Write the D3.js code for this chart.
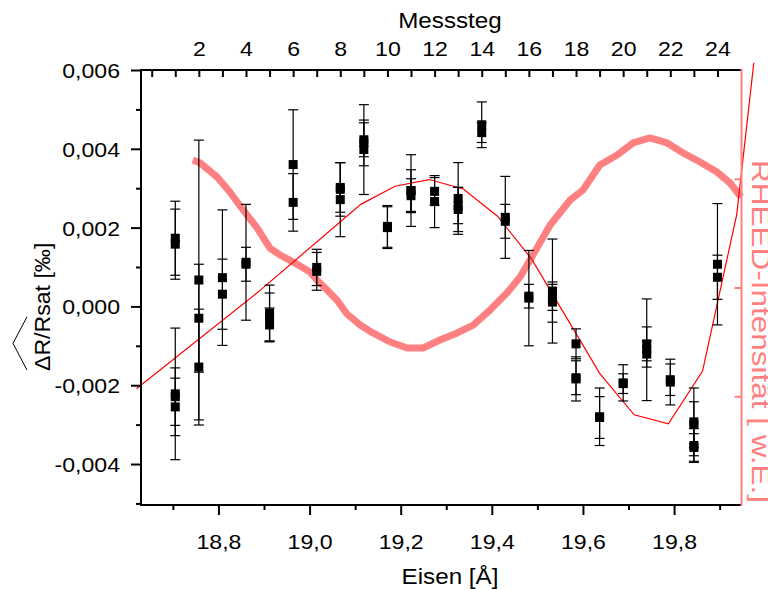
<!DOCTYPE html>
<html><head><meta charset="utf-8">
<script src="https://cdn.jsdelivr.net/npm/d3@7"></script>
<style>
body{margin:0;background:#fff;}
svg text{font-family:"Liberation Sans", Arial, sans-serif;}
</style></head><body>
<svg id="chart" width="768" height="590"></svg>
<script>
// ---------- data ----------
const measStep = [1,1,1,1,1, 2,2,2, 3,3, 4,4, 5,5,5, 6,6, 7,7, 8,8,8, 9,9,9, 10,10, 11,11,11, 12,12, 13,13,13, 14,14, 15,15, 16,16, 17,17,17, 18,18,18, 19,19, 20,20, 21,21,21, 22,22, 23,23,23,23, 24,24];
const measValue = [0.00173,0.00158,-0.00222,-0.00229,-0.00255, 0.00067,-0.00030,-0.00154, 0.00073,0.00031, 0.00112,0.00107, -0.00027,-0.00047,-0.00017, 0.00360,0.00264, 0.00099,0.00089, 0.00302,0.00271,0.00297, 0.00398,0.00415,0.00423, 0.00200,0.00203, 0.00294,0.00294,0.00281, 0.00292,0.00266, 0.00274,0.00246,0.00256, 0.00461,0.00441, 0.00226,0.00216, 0.00021,0.00026, 0.00039,0.00011,0.00023, -0.00095,-0.00181,-0.00184, -0.00280,-0.00282, -0.00194,-0.00196, -0.00110,-0.00095,-0.00121, -0.00192,-0.00186, -0.00293,-0.00300,-0.00358,-0.00353, 0.00107,0.00074];
const measError = [0.00094,0.00089,0.00167,0.00073,0.00073, 0.00355,0.00137,0.00147, 0.00172,0.00089, 0.00147,0.00043, 0.00061,0.00043,0.00071, 0.00139,0.00073, 0.00046,0.00048, 0.00063,0.00094,0.00068, 0.00114,0.00058,0.00043, 0.00053,0.00053, 0.00091,0.00053,0.00043, 0.00035,0.00066, 0.00091,0.00056,0.00046, 0.00058,0.00025, 0.00104,0.00043, 0.00121,0.00030, 0.00132,0.00051,0.00033, 0.00038,0.00043,0.00056, 0.00073,0.00053, 0.00046,0.00025, 0.00129,0.00043,0.00033, 0.00058,0.00040, 0.00086,0.00058,0.00035,0.00043, 0.00154,0.00056];

const simEisen = [18.620, 18.8875, 19.1125, 19.1875, 19.2625, 19.3375, 19.4125, 19.4875, 19.6375, 19.7125, 19.7875, 19.8625, 19.9375, 19.975];
const simValue = [-0.00209, 0.00037, 0.00259, 0.00305, 0.00322, 0.00298, 0.00229, 0.00120, -0.00171, -0.00275, -0.00298, -0.00164, 0.00233, 0.00618];

const rheedEisen = [18.744,18.760,18.797,18.825,18.854,18.885,18.913,18.935,18.964,19.001,19.016,19.034,19.060,19.082,19.111,19.139,19.177,19.214,19.249,19.286,19.324,19.359,19.396,19.433,19.462,19.484,19.528,19.572,19.600,19.637,19.675,19.710,19.747,19.785,19.820,19.857,19.894,19.923,19.947];
const rheedIntensity = [3.172,3.145,3.016,2.878,2.713,2.547,2.363,2.299,2.234,2.143,2.069,1.995,1.885,1.757,1.655,1.582,1.499,1.444,1.444,1.517,1.582,1.655,1.793,1.949,2.097,2.253,2.575,2.805,2.897,3.126,3.218,3.329,3.375,3.329,3.237,3.154,3.062,2.961,2.832];

const leftTickValues = [-0.004,-0.002,0,0.002,0.004,0.006];
const leftMinorValues = [-0.005,-0.003,-0.001,0.001,0.003,0.005];
const bottomTickValues = [18.8,19.0,19.2,19.4,19.6,19.8];
const bottomMinorValues = [18.7,18.9,19.1,19.3,19.5,19.7,19.9];
const topTickValues = [2,4,6,8,10,12,14,16,18,20,22,24];
const topMinorValues = [0,1,3,5,7,9,11,13,15,17,19,21,23];
const rightTickValues = [1,2,3];

// ---------- layout ----------
const L = 141, R = 741.5, T = 70, B = 505;
const FS = 21, STRETCH = 1.1;
const svg = d3.select("#chart");

const x = d3.scaleLinear().domain([18.63, 19.948]).range([L, R]);
const xTop = d3.scaleLinear().domain([-0.454, 25.02]).range([L, R]);
const y = d3.scaleLinear().domain([-0.00504, 0.006]).range([B, T]);
const yR = d3.scaleLinear().domain([0, 4]).range([B, T]);

const fmtY = d => d3.format(".3f")(d).replace(".", ",").replace("\u2212", "-");
const fmtX = d => d3.format(".1f")(d).replace(".", ",");

function stretch(sel, k) {
  sel.each(function () {
    const w = this.getComputedTextLength();
    d3.select(this).attr("textLength", w * k).attr("lengthAdjust", "spacingAndGlyphs");
  });
}

// ---------- RHEED trace ----------
const rheed = rheedEisen.map((e, i) => [e, rheedIntensity[i]]);
svg.append("path").datum(rheed)
  .attr("fill", "none").attr("stroke", "#ff8080").attr("stroke-width", 7)
  .attr("stroke-linejoin", "round")
  .attr("d", d3.line().x(d => x(d[0])).y(d => yR(d[1])));

// ---------- simulation line ----------
const sim = simEisen.map((e, i) => [e, simValue[i]]);
svg.append("path").datum(sim)
  .attr("fill", "none").attr("stroke", "#ff0000").attr("stroke-width", 1.2)
  .attr("d", d3.line().x(d => x(d[0])).y(d => y(d[1])));

// ---------- axes ----------
function styleAxis(g, color) {
  g.select(".domain").remove();
  g.selectAll(".tick line").attr("stroke", color).attr("stroke-width", 2);
  g.selectAll(".tick text").attr("fill", color).style("font-size", FS + "px")
    .style("font-family", '"Liberation Sans", Arial, sans-serif');
}

// left
const gl = svg.append("g").attr("transform", `translate(${L},0)`)
  .call(d3.axisLeft(y).tickValues(leftTickValues).tickSize(10).tickPadding(11).tickFormat(fmtY));
styleAxis(gl, "#000");
gl.selectAll(".tick text").attr("dy", "0.36em");
const glm = svg.append("g").attr("transform", `translate(${L},0)`)
  .call(d3.axisLeft(y).tickValues(leftMinorValues).tickSize(5).tickFormat(""));
styleAxis(glm, "#000");

// bottom
const gb = svg.append("g").attr("transform", `translate(0,${B})`)
  .call(d3.axisBottom(x).tickValues(bottomTickValues).tickSize(10).tickPadding(10).tickFormat(fmtX));
styleAxis(gb, "#000");
gb.selectAll(".tick text").attr("y", 44).attr("dy", "0");
const gbm = svg.append("g").attr("transform", `translate(0,${B})`)
  .call(d3.axisBottom(x).tickValues(bottomMinorValues).tickSize(5).tickFormat(""));
styleAxis(gbm, "#000");

// top
const gt = svg.append("g").attr("transform", `translate(0,${T})`)
  .call(d3.axisTop(xTop).tickValues(topTickValues).tickSize(-7).tickPadding(14).tickFormat(d3.format("d")));
styleAxis(gt, "#000");
const gtm = svg.append("g").attr("transform", `translate(0,${T})`)
  .call(d3.axisTop(xTop).tickValues(topMinorValues).tickSize(-7).tickFormat(""));
styleAxis(gtm, "#000");

// right (RHEED)
const gr = svg.append("g").attr("transform", `translate(${R},0)`)
  .call(d3.axisRight(yR).tickValues(rightTickValues).tickSize(-7).tickFormat(""));
styleAxis(gr, "#ff8080");

// frame
svg.append("path").attr("fill", "none").attr("stroke", "#000").attr("stroke-width", 2)
  .attr("d", `M${R},${T}H${L}V${B}H${R}`);
svg.append("line").attr("x1", R).attr("x2", R).attr("y1", T - 1).attr("y2", B + 1)
  .attr("stroke", "#ff8080").attr("stroke-width", 2);

stretch(svg.selectAll(".tick text"), STRETCH);

// ---------- measurements ----------
const meas = measStep.map((s, i) => ({ s, v: measValue[i], e: measError[i] }));
const gm = svg.append("g");
const cap = 5;
const eb = gm.selectAll("g.eb").data(meas).join("g").attr("class", "eb");
eb.append("line")
  .attr("x1", d => xTop(d.s)).attr("x2", d => xTop(d.s))
  .attr("y1", d => y(d.v + d.e)).attr("y2", d => y(d.v - d.e))
  .attr("stroke", "#000").attr("stroke-width", 1.2);
eb.append("line")
  .attr("x1", d => xTop(d.s) - cap).attr("x2", d => xTop(d.s) + cap)
  .attr("y1", d => y(d.v + d.e)).attr("y2", d => y(d.v + d.e))
  .attr("stroke", "#000").attr("stroke-width", 1.2);
eb.append("line")
  .attr("x1", d => xTop(d.s) - cap).attr("x2", d => xTop(d.s) + cap)
  .attr("y1", d => y(d.v - d.e)).attr("y2", d => y(d.v - d.e))
  .attr("stroke", "#000").attr("stroke-width", 1.2);
gm.selectAll("rect").data(meas).join("rect")
  .attr("x", d => xTop(d.s) - 4.5).attr("y", d => y(d.v) - 4.5)
  .attr("width", 9).attr("height", 9).attr("fill", "#000");

// ---------- titles ----------
const tTop = svg.append("text").attr("x", 450).attr("y", 28).attr("text-anchor", "middle")
  .style("font-size", "22px").attr("fill", "#000").text("Messsteg");
const tBot = svg.append("text").attr("x", 450).attr("y", 584).attr("text-anchor", "middle")
  .style("font-size", "22px").attr("fill", "#000").text("Eisen [Å]");
stretch(tTop, STRETCH); stretch(tBot, STRETCH);

// left title with hat over ΔR/R
const gLT = svg.append("g").attr("transform", "translate(50,371) rotate(-90)");
const tLeft = gLT.append("text").attr("x", 0).attr("y", 0).attr("text-anchor", "start")
  .style("font-size", "22px").attr("fill", "#000").text("ΔR/Rsat [‰]");
stretch(tLeft, 1.05);
const tmp = gLT.append("text").style("font-size", "22px").text("ΔR/R");
const hatW = tmp.node().getComputedTextLength() * 1.05;
tmp.remove();
gLT.append("path").attr("fill", "none").attr("stroke", "#000").attr("stroke-width", 1)
  .attr("d", `M1,-23 L${hatW / 2},-37 L${hatW - 1},-23`);

// right title (clipped at the page edge, as in the reference)
svg.append("text").attr("transform", "translate(752,160) rotate(90)")
  .attr("text-anchor", "start").style("font-size", "26px").attr("fill", "#ff8080")
  .attr("textLength", 343).attr("lengthAdjust", "spacingAndGlyphs")
  .text("RHEED-Intensität [ w.E.]");
</script>
</body></html>
